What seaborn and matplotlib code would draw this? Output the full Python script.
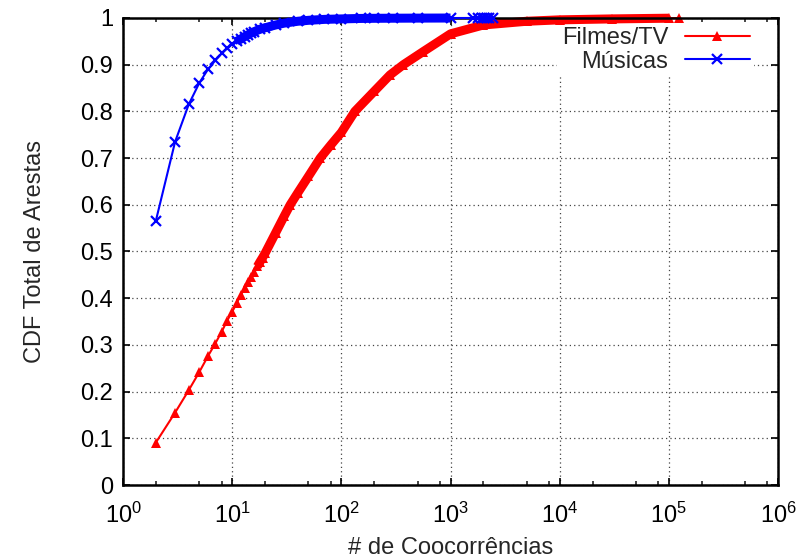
import numpy as np
import pandas as pd
import matplotlib
matplotlib.use("Agg")
import matplotlib.pyplot as plt
from matplotlib.lines import Line2D
from matplotlib.ticker import LogLocator, NullFormatter
import seaborn as sns

# ---- data ----
filmes_x = [2, 3, 4, 5, 6, 7, 8, 9, 10, 11, 12, 13, 14, 15, 16, 17, 18, 19, 20,
            25, 30, 34, 40, 50, 64, 80, 100, 133, 200, 279, 370, 562, 1000,
            2000, 5000, 10000, 30000, 100000, 124000]
filmes_y = [0.091, 0.155, 0.203, 0.242, 0.276, 0.303, 0.328, 0.352, 0.371, 0.389,
            0.407, 0.421, 0.434, 0.446, 0.457, 0.468, 0.478, 0.487, 0.496,
            0.540, 0.576, 0.600, 0.626, 0.661, 0.700, 0.728, 0.755, 0.800, 0.843,
            0.878, 0.900, 0.928, 0.966, 0.985, 0.993, 0.996, 0.998, 0.9995, 1.0]

musicas_x = [2, 3, 4, 5, 6, 7, 8, 9, 10, 11, 12, 13, 14, 15, 16, 18, 20, 25, 30,
             40, 50, 70, 100, 150, 200, 300, 500, 1000, 1615, 1795, 1928, 2023,
             2138, 2259, 2460]
musicas_y = [0.566, 0.735, 0.815, 0.861, 0.890, 0.909, 0.924, 0.935, 0.944, 0.950,
             0.955, 0.960, 0.964, 0.968, 0.971, 0.976, 0.979, 0.985, 0.989, 0.993,
             0.995, 0.997, 0.998, 0.999, 0.9993, 0.9995, 0.9997, 0.9999, 1.0, 1.0,
             1.0, 1.0, 1.0, 1.0, 1.0]

series_labels = ["Filmes/TV", "Músicas"]
y_ticks = [0, 0.1, 0.2, 0.3, 0.4, 0.5, 0.6, 0.7, 0.8, 0.9, 1.0]
y_tick_labels = ["0", "0.1", "0.2", "0.3", "0.4", "0.5", "0.6", "0.7", "0.8", "0.9", "1"]
x_label = "# de Coocorrências"
y_label = "CDF Total de Arestas"

sns.set_style("ticks")
plt.rcParams["font.family"] = ["Liberation Sans", "DejaVu Sans"]
plt.rcParams["mathtext.fontset"] = "custom"
plt.rcParams["mathtext.rm"] = "Liberation Sans"
plt.rcParams["axes.axisbelow"] = True

FS = 17
RED = "#ff0000"
BLUE = "#0000ff"

df_f = pd.DataFrame({"x": filmes_x, "y": filmes_y})
df_m = pd.DataFrame({"x": musicas_x, "y": musicas_y})

fig = plt.figure(figsize=(8.03, 5.6), dpi=100)
ax = fig.add_axes([0.1532, 0.1339, 0.9689 - 0.1532, 0.9679 - 0.1339])

ax.set_xscale("log")
ax.set_xlim(1, 1e6)
ax.set_ylim(0, 1)

# dense-marker bands (overlapping markers in the original)
band_f = df_f[(df_f.x >= 17) & (df_f.x <= 100000)]
band_m = df_m[(df_m.x >= 11) & (df_m.x <= 1000)]
sns.lineplot(data=band_f, x="x", y="y", ax=ax, color=RED, linewidth=6.5,
             estimator=None, sort=False, legend=False, zorder=2, clip_on=False,
             solid_capstyle="butt")
sns.lineplot(data=band_m, x="x", y="y", ax=ax, color=BLUE, linewidth=6.5,
             estimator=None, sort=False, legend=False, zorder=3, clip_on=False,
             solid_capstyle="butt")

sns.lineplot(data=df_f, x="x", y="y", ax=ax, color=RED, linewidth=1.5,
             marker="^", markersize=7.5, markeredgewidth=0, markeredgecolor=RED,
             markerfacecolor=RED, estimator=None, sort=False, legend=False,
             zorder=2, clip_on=False)
sns.lineplot(data=df_m, x="x", y="y", ax=ax, color=BLUE, linewidth=1.5,
             marker="x", markersize=6.5, markeredgewidth=1.6, markeredgecolor=BLUE,
             estimator=None, sort=False, legend=False, zorder=3, clip_on=False)

# ticks
ax.xaxis.set_major_locator(LogLocator(base=10, numticks=20))
ax.xaxis.set_minor_locator(LogLocator(base=10, subs=(2.0, 5.0, 8.0), numticks=20))
ax.xaxis.set_minor_formatter(NullFormatter())
ax.set_yticks(y_ticks, y_tick_labels)
ax.tick_params(axis="both", which="major", direction="in", length=5, width=1.2,
               top=True, right=True, labelsize=FS, pad=7, colors="black")
ax.tick_params(axis="both", which="minor", direction="in", length=2.8, width=1.2,
               top=True, right=True)
ax.tick_params(axis="x", which="major", pad=13)

# grid
ax.grid(True, which="major", axis="both", color="#444444", linestyle=(0, (1, 2.5)),
        linewidth=0.9)

for sp in ax.spines.values():
    sp.set_linewidth(1.8)
    sp.set_color("black")
    sp.set_zorder(2.5)

ax.set_xlabel(x_label, fontsize=FS, labelpad=6)
ax.set_ylabel(y_label, fontsize=FS, labelpad=25)

handles = [
    Line2D([], [], color=RED, linewidth=1.5, marker="^", markersize=7.5, markeredgewidth=0),
    Line2D([], [], color=BLUE, linewidth=1.5, marker="x", markersize=6.5, markeredgewidth=1.6),
]
leg = ax.legend(handles, series_labels, loc="upper right", bbox_to_anchor=(0.964, 0.99),
                borderaxespad=0, markerfirst=False, frameon=True, fancybox=False,
                fontsize=FS, handlelength=2.75, handletextpad=0.7, labelspacing=0.05,
                borderpad=0.2, numpoints=1)
leg.get_frame().set_facecolor("white")
leg.get_frame().set_edgecolor("none")
leg.get_frame().set_alpha(1)
leg.set_zorder(1.5)

fig.savefig("out.png", dpi=100)
